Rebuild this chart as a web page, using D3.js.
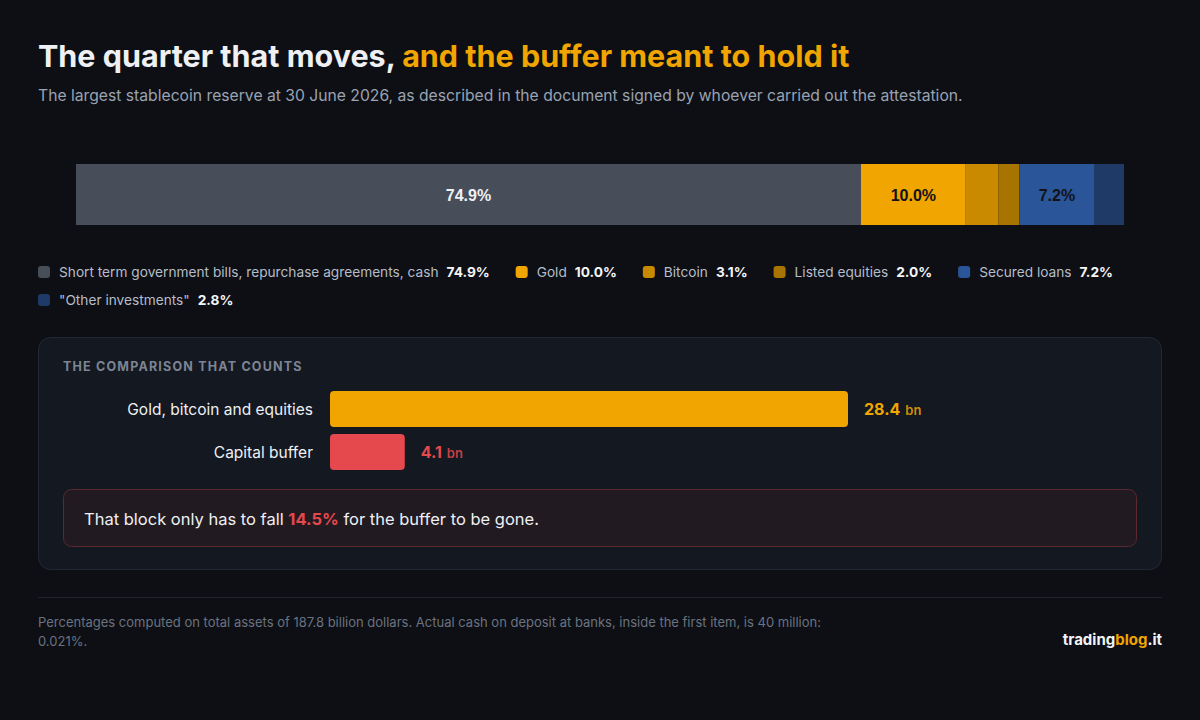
<!DOCTYPE html>
<html><head><meta charset="utf-8">
<script src="https://cdn.jsdelivr.net/npm/d3@7"></script>
<style>
body{margin:0;background:#0d0f14;}
svg{display:block;font-family:Inter,"Noto Sans",sans-serif;}
</style></head>
<body><svg width="1200" height="720"></svg>
<script>
const CATEGORIES = ['Short term government bills, repurchase agreements, cash', 'Gold', 'Bitcoin', 'Listed equities', 'Secured loans', '"Other investments"'];
const SHARES = [74.9, 10.0, 3.1, 2.0, 7.2, 2.8];
const COLORS = ['#474d59', '#f0a500', '#c98a00', '#a87400', '#2a5599', '#1f3a66'];
const CMP_LABELS = ['Gold, bitcoin and equities', 'Capital buffer'];
const CMP_VALUES = [28.4, 4.1];
const CMP_COLORS = ['#f0a500', '#e5484d'];
const FALL_PCT = 14.5;

const svg = d3.select('svg');
svg.append('rect').attr('width', 1200).attr('height', 720).attr('fill', '#0d0f14');

const title = svg.append('text').attr('x', 38).attr('y', 67)
    .attr('font-size', 30.5).attr('font-weight', 700);
title.append('tspan').attr('fill', '#eef0f3').text('The quarter that moves, ');
title.append('tspan').attr('fill', '#f0a500').text('and the buffer meant to hold it');
svg.append('text').attr('x', 38).attr('y', 101).attr('font-size', 15.7).attr('fill', '#9aa3b2')
    .text('The largest stablecoin reserve at 30 June 2026, as described in the document signed by whoever carried out the attestation.');

// stacked bar
const x = d3.scaleLinear().domain([0, d3.sum(SHARES)]).range([76, 1124]);
const starts = d3.cumsum([0].concat(SHARES));
const segs = SHARES.map((v, i) => ({v, i, s: starts[i]}));
svg.selectAll('.seg').data(segs).enter().append('rect')
    .attr('x', d => x(d.s)).attr('y', 164)
    .attr('width', d => x(d.s + d.v) - x(d.s)).attr('height', 61)
    .attr('fill', d => COLORS[d.i]);
svg.selectAll('.seglab').data(segs.filter(d => d.v >= 5)).enter().append('text')
    .attr('x', d => (x(d.s) + x(d.s + d.v)) / 2).attr('y', 201)
    .attr('text-anchor', 'middle').attr('font-size', 16).attr('font-weight', 700)
    .attr('font-family', '"Liberation Sans",Arial,sans-serif')
    .attr('fill', d => d.i === 0 ? '#eef0f3' : '#111318')
    .text(d => d.v.toFixed(1) + '%');

// legend
let lx = 38, ly = 272;
CATEGORIES.forEach((c, i) => {
    const g = svg.append('g');
    const t1 = g.append('text').attr('x', lx + 21).attr('y', ly + 5).attr('font-size', 13.7).attr('fill', '#b6bdc9').text(c);
    const w1 = t1.node().getComputedTextLength();
    const t2 = g.append('text').attr('x', lx + 21 + w1 + 8).attr('y', ly + 5).attr('font-size', 13.7)
        .attr('font-weight', 700).attr('fill', '#f3f4f6').text(SHARES[i].toFixed(1) + '%');
    const w = 21 + w1 + 8 + t2.node().getComputedTextLength();
    if (lx + w > 1162) {
        lx = 38; ly += 28;
        t1.attr('x', lx + 21).attr('y', ly + 5);
        t2.attr('x', lx + 21 + w1 + 8).attr('y', ly + 5);
    }
    g.append('rect').attr('x', lx).attr('y', ly - 6).attr('width', 12).attr('height', 12)
        .attr('rx', 3).attr('fill', COLORS[i]);
    lx += w + 26;
});

// comparison panel
svg.append('rect').attr('x', 38.5).attr('y', 337.5).attr('width', 1123).attr('height', 232)
    .attr('rx', 12).attr('fill', '#131821').attr('stroke', '#222836');
svg.append('text').attr('x', 63).attr('y', 371).attr('font-size', 12.5).attr('font-weight', 700)
    .attr('letter-spacing', 1.2).attr('fill', '#7d8594').text('THE COMPARISON THAT COUNTS');

const cx = d3.scaleLinear().domain([0, CMP_VALUES[0]]).range([330, 848]);
const cy = d3.scaleBand().domain(CMP_LABELS).range([391, 470]).paddingInner(0.16);
svg.selectAll('.cbar').data(CMP_VALUES).enter().append('rect')
    .attr('x', cx(0)).attr('y', (d, i) => cy(CMP_LABELS[i]))
    .attr('width', d => cx(d) - cx(0)).attr('height', cy.bandwidth())
    .attr('rx', 4).attr('fill', (d, i) => CMP_COLORS[i]);
svg.selectAll('.clab').data(CMP_LABELS).enter().append('text')
    .attr('x', 313).attr('y', d => cy(d) + cy.bandwidth() / 2 + 6)
    .attr('text-anchor', 'end').attr('font-size', 15.5).attr('fill', '#eef0f3').text(d => d);
CMP_VALUES.forEach((v, i) => {
    const t = svg.append('text').attr('x', cx(v) + 16).attr('y', cy(CMP_LABELS[i]) + cy.bandwidth() / 2 + 6)
        .attr('fill', CMP_COLORS[i]);
    t.append('tspan').attr('font-size', 16).attr('font-weight', 700).text(v.toFixed(1));
    t.append('tspan').attr('font-size', 13).attr('dx', 5).attr('font-weight', 600).attr('fill-opacity', 0.85).text('bn');
});

// alert
svg.append('rect').attr('x', 63.5).attr('y', 489.5).attr('width', 1073).attr('height', 57)
    .attr('rx', 8).attr('fill', '#221a21').attr('stroke', '#5a2a30');
const at = svg.append('text').attr('x', 84).attr('y', 525).attr('font-size', 16.5).attr('fill', '#eef0f3');
at.append('tspan').text('That block only has to fall ');
at.append('tspan').attr('fill', '#e5484d').attr('font-weight', 700).text(FALL_PCT.toFixed(1) + '%');
at.append('tspan').text(' for the buffer to be gone.');

// footer
svg.append('line').attr('x1', 38).attr('x2', 1162).attr('y1', 597.5).attr('y2', 597.5).attr('stroke', '#20252f');
svg.append('text').attr('x', 38).attr('y', 627).attr('font-size', 13).attr('fill', '#6b7280')
    .text('Percentages computed on total assets of 187.8 billion dollars. Actual cash on deposit at banks, inside the first item, is 40 million:');
svg.append('text').attr('x', 38).attr('y', 646).attr('font-size', 13).attr('fill', '#6b7280').text('0.021%.');
const logo = svg.append('text').attr('x', 1162).attr('y', 645).attr('text-anchor', 'end')
    .attr('font-size', 15).attr('font-weight', 700);
logo.append('tspan').attr('fill', '#f3f4f6').text('trading');
logo.append('tspan').attr('fill', '#f0a500').text('blog');
logo.append('tspan').attr('fill', '#f3f4f6').text('.it');
</script></body></html>
